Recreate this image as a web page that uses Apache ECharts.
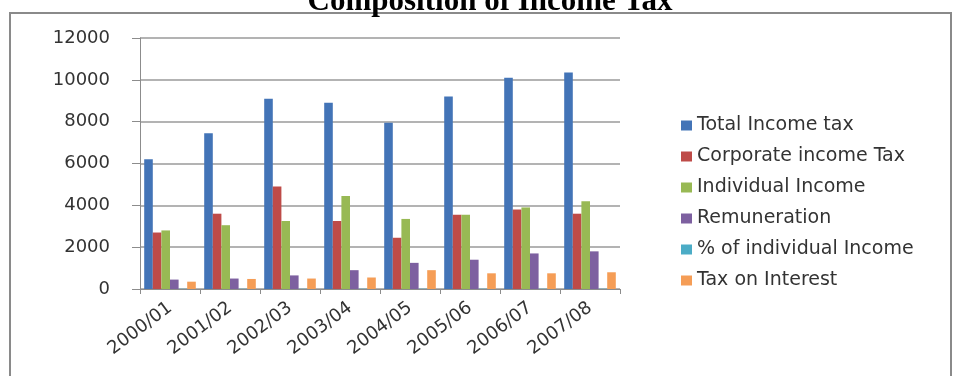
<!DOCTYPE html>
<html>
<head>
<meta charset="utf-8">
<script src="https://cdn.jsdelivr.net/npm/echarts@6/dist/echarts.min.js"></script>
<style>
  html, body { margin: 0; padding: 0; background: #fff; }
  #chart { width: 955px; height: 376px; }
</style>
</head>
<body>
<div id="chart"></div>
<script>
// Fiscal years on the category axis
const years = ['2000/01', '2001/02', '2002/03', '2003/04', '2004/05', '2005/06', '2006/07', '2007/08'];

// Income tax components per year
const totalIncomeTax     = [6200, 7450, 9100, 8900, 7950, 9200, 10100, 10350];
const corporateIncomeTax = [2700, 3600, 4900, 3250, 2450, 3550, 3800, 3600];
const individualIncome   = [2800, 3050, 3250, 4450, 3350, 3550, 3900, 4200];
const remuneration       = [450, 500, 650, 900, 1250, 1400, 1700, 1800];
const pctIndividual      = [12, 13, 12, 14, 15, 15, 14, 14];
const taxOnInterest      = [350, 480, 500, 550, 900, 750, 750, 800];

// Value axis ticks
const yTicks = [0, 2000, 4000, 6000, 8000, 10000, 12000];

const seriesDefs = [
  { name: 'Total Income tax',         data: totalIncomeTax,     color: '#4374B7' },
  { name: 'Corporate income Tax',     data: corporateIncomeTax, color: '#BE4B48' },
  { name: 'Individual Income',        data: individualIncome,   color: '#98B954' },
  { name: 'Remuneration',             data: remuneration,       color: '#7D60A0' },
  { name: '% of individual Income',   data: pctIndividual,      color: '#4BACC6' },
  { name: 'Tax on Interest',          data: taxOnInterest,      color: '#F59D56' }
];

const font = 'DejaVu Sans';
const chart = echarts.init(document.getElementById('chart'), null, { renderer: 'canvas' });

chart.setOption({
  animation: false,
  backgroundColor: '#fff',
  graphic: [
    {
      type: 'rect',
      shape: { x: 10, y: 13, width: 941, height: 380 },
      style: { fill: '#fff', stroke: '#8a8a8a', lineWidth: 2 },
      z: -10
    },
    {
      type: 'text',
      x: 490,
      y: 17,
      style: {
        text: 'Composition of Income Tax',
        font: 'bold 31px "Liberation Serif"',
        fill: '#000',
        align: 'center',
        verticalAlign: 'bottom'
      }
    }
  ],
  grid: { left: 140, right: 335, top: 38, bottom: 87, containLabel: false },
  legend: {
    orient: 'vertical',
    left: 676,
    top: 111,
    itemWidth: 11,
    itemHeight: 10,
    itemGap: 12,
    icon: 'rect',
    textStyle: { fontFamily: font, fontSize: 19, color: '#333', lineHeight: 19 },
    data: seriesDefs.map(s => s.name)
  },
  xAxis: {
    type: 'category',
    data: years,
    axisLine: { lineStyle: { color: '#8c8c8c', width: 1 } },
    axisTick: { show: true, length: 5, lineStyle: { color: '#8c8c8c' } },
    axisLabel: {
      rotate: 37,
      margin: 17,
      interval: 0,
      fontFamily: font,
      fontSize: 18,
      color: '#333'
    }
  },
  yAxis: {
    type: 'value',
    min: yTicks[0],
    max: yTicks[yTicks.length - 1],
    interval: 2000,
    axisLine: { show: true, lineStyle: { color: '#8c8c8c', width: 1 } },
    axisTick: { show: true, length: 8, lineStyle: { color: '#8c8c8c' } },
    axisLabel: {
      margin: 30,
      fontFamily: font,
      fontSize: 18,
      color: '#333',
      formatter: v => String(v)
    },
    splitLine: { lineStyle: { color: '#9a9a9a', width: 1.5 } }
  },
  series: seriesDefs.map(s => ({
    name: s.name,
    type: 'bar',
    data: s.data,
    barGap: '0%',
    barCategoryGap: '14%',
    itemStyle: { color: s.color }
  }))
});
</script>
</body>
</html>
